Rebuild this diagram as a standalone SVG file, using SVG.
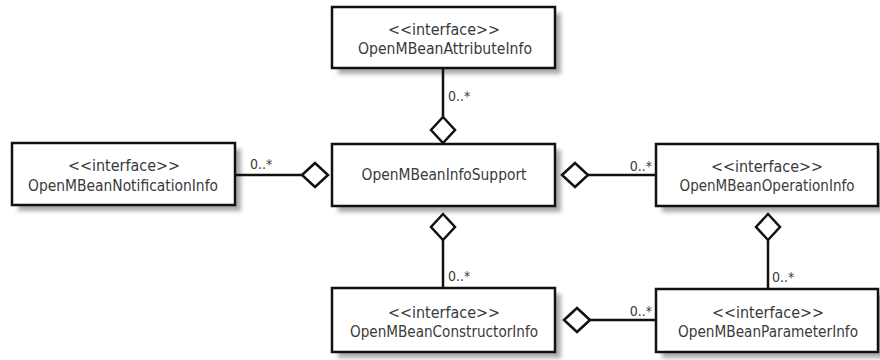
<svg xmlns="http://www.w3.org/2000/svg" width="880" height="360" viewBox="0 0 880 360">
<style>
.box{fill:#fff;stroke:#111;stroke-width:2.5}
.shadow{fill:#aaa;filter:url(#blur)}
.t{font-family:'DejaVu Sans Condensed','DejaVu Sans',sans-serif;font-stretch:condensed;font-size:15px;fill:#3a3a3a;text-anchor:middle}
.m{font-family:'DejaVu Sans Condensed','DejaVu Sans',sans-serif;font-stretch:condensed;font-size:14px;fill:#3a3a3a}
.ln{stroke:#111;stroke-width:2.5;fill:none}
.dia{fill:#fff;stroke:#111;stroke-width:2.5;stroke-linejoin:miter}
</style>
<defs>
<filter id="blur" x="-10%" y="-10%" width="120%" height="130%"><feGaussianBlur stdDeviation="2"/></filter>
</defs>
<rect width="880" height="360" fill="#fff"/>

<g id="attr">
<rect class="shadow" x="338" y="13" width="223" height="61"/>
<rect class="box" x="332" y="7" width="223" height="61"/>
<text class="t" x="444" y="35" textLength="112" lengthAdjust="spacingAndGlyphs">&lt;&lt;interface&gt;&gt;</text>
<text class="t" x="445" y="54" textLength="174" lengthAdjust="spacingAndGlyphs">OpenMBeanAttributeInfo</text>
</g>

<g id="support">
<rect class="shadow" x="338" y="150" width="223" height="62"/>
<rect class="box" x="332" y="144" width="223" height="62"/>
<text class="t" x="444" y="180" textLength="165" lengthAdjust="spacingAndGlyphs">OpenMBeanInfoSupport</text>
</g>

<g id="notif">
<rect class="shadow" x="18" y="149" width="223" height="62"/>
<rect class="box" x="12" y="143" width="223" height="62"/>
<text class="t" x="124" y="171" textLength="112" lengthAdjust="spacingAndGlyphs">&lt;&lt;interface&gt;&gt;</text>
<text class="t" x="123" y="191" textLength="190" lengthAdjust="spacingAndGlyphs">OpenMBeanNotificationInfo</text>
</g>

<g id="oper">
<rect class="shadow" x="662" y="150" width="222" height="62"/>
<rect class="box" x="656" y="144" width="222" height="62"/>
<text class="t" x="767" y="172" textLength="112" lengthAdjust="spacingAndGlyphs">&lt;&lt;interface&gt;&gt;</text>
<text class="t" x="767" y="191" textLength="175" lengthAdjust="spacingAndGlyphs">OpenMBeanOperationInfo</text>
</g>

<g id="ctor">
<rect class="shadow" x="338" y="294" width="223" height="64"/>
<rect class="box" x="332" y="288" width="223" height="64"/>
<text class="t" x="444" y="318" textLength="112" lengthAdjust="spacingAndGlyphs">&lt;&lt;interface&gt;&gt;</text>
<text class="t" x="444" y="337" textLength="188" lengthAdjust="spacingAndGlyphs">OpenMBeanConstructorInfo</text>
</g>

<g id="param">
<rect class="shadow" x="662" y="295" width="222" height="63"/>
<rect class="box" x="656" y="289" width="222" height="63"/>
<text class="t" x="768" y="318" textLength="112" lengthAdjust="spacingAndGlyphs">&lt;&lt;interface&gt;&gt;</text>
<text class="t" x="768" y="337" textLength="180" lengthAdjust="spacingAndGlyphs">OpenMBeanParameterInfo</text>
</g>

<g id="connectors">
<line class="ln" x1="443" y1="68" x2="443" y2="117"/>
<polygon class="dia" points="443,117 455,130 443,143 431,130"/>
<text class="m" x="448" y="101">0..*</text>

<line class="ln" x1="235" y1="175" x2="302" y2="175"/>
<polygon class="dia" points="302,175 315,163 328,175 315,187"/>
<text class="m" x="250" y="169">0..*</text>

<line class="ln" x1="588" y1="175" x2="656" y2="175"/>
<polygon class="dia" points="562,175 575,163 588,175 575,187"/>
<text class="m" x="652" y="171" text-anchor="end">0..*</text>

<line class="ln" x1="443" y1="240" x2="443" y2="288"/>
<polygon class="dia" points="443,214 455,227 443,240 431,227"/>
<text class="m" x="448" y="281">0..*</text>

<line class="ln" x1="768" y1="240" x2="768" y2="289"/>
<polygon class="dia" points="768,214 780,227 768,240 756,227"/>
<text class="m" x="772" y="282">0..*</text>

<line class="ln" x1="590" y1="320" x2="656" y2="320"/>
<polygon class="dia" points="564,320 577,308 590,320 577,332"/>
<text class="m" x="652" y="316" text-anchor="end">0..*</text>
</g>
</svg>
